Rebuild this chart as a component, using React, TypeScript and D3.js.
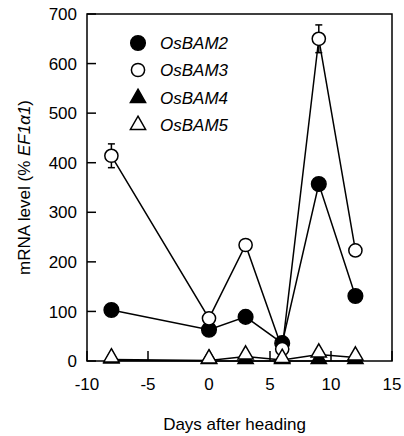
import * as d3 from "d3";

// data
const days = [-8, 0, 3, 6, 9, 12];
const bam2 = [103, 63, 89, 36, 357, 131];
const bam3 = [414, 86, 234, 24, 650, 223];
const bam3Err = [24, 0, 0, 0, 28, 0];
const bam4 = [1, 0, 0, 0, 0, 0];
const bam5 = [3, 1, 9, 2, 13, 7];
const xTicks = [-10, -5, 0, 5, 10, 15];
const yTicks = [0, 100, 200, 300, 400, 500, 600, 700];

const W = 404;
const H = 436;
const margin = { top: 14, right: 12, bottom: 75, left: 87 };
const font = "'Liberation Sans', Arial, Helvetica, sans-serif";

const App = () => {
  const x = d3.scaleLinear().domain([-10, 15]).range([margin.left, W - margin.right]);
  const y = d3.scaleLinear().domain([0, 700]).range([H - margin.bottom, margin.top]);

  const line = d3
    .line<number>()
    .x((_, i) => x(days[i]))
    .y((d) => y(d));

  const tri = d3.symbol().type(d3.symbolTriangle).size(100)() as string;

  const circles = (vals: number[], filled: boolean) =>
    vals.map((v, i) => (
      <circle
        key={i}
        cx={x(days[i])}
        cy={y(v)}
        r={filled ? 7.3 : 6.6}
        fill={filled ? "black" : "white"}
        stroke="black"
        strokeWidth={1.5}
      />
    ));

  const triangles = (vals: number[], filled: boolean) =>
    vals.map((v, i) => (
      <path
        key={i}
        d={tri}
        transform={`translate(${x(days[i])},${y(v) - 2})`}
        fill={filled ? "black" : "white"}
        stroke="black"
        strokeWidth={1.5}
      />
    ));

  const legend = [
    { name: "OsBAM2", kind: "circle", filled: true },
    { name: "OsBAM3", kind: "circle", filled: false },
    { name: "OsBAM4", kind: "tri", filled: true },
    { name: "OsBAM5", kind: "tri", filled: false },
  ];
  const legendY = [43, 70, 98, 125];

  const x0 = margin.left;
  const x1 = W - margin.right;
  const y0 = H - margin.bottom;
  const y1 = margin.top;

  return (
    <div style={{ position: "absolute", left: 0, top: 0 }}>
      <svg width={W} height={H} style={{ display: "block", background: "white" }} fontFamily={font}>
        {/* frame */}
        <rect x={x0} y={y1} width={x1 - x0} height={y0 - y1} fill="none" stroke="black" strokeWidth={1.5} />

        {/* y axis ticks */}
        {yTicks.map((t) => (
          <g key={t}>
            <line x1={x0} x2={x0 + 9} y1={y(t)} y2={y(t)} stroke="black" strokeWidth={1.5} />
            <text x={x0 - 10} y={y(t)} dy="0.36em" textAnchor="end" fontSize={17}>
              {t}
            </text>
          </g>
        ))}

        {/* x axis ticks */}
        {xTicks.map((t) => (
          <g key={t}>
            <line x1={x(t)} x2={x(t)} y1={y0} y2={y0 - 10} stroke="black" strokeWidth={1.5} />
            <text x={x(t)} y={390} textAnchor="middle" fontSize={17}>
              {t}
            </text>
          </g>
        ))}

        {/* axis titles */}
        <text x={(x0 + x1) / 2 - 5} y={430} textAnchor="middle" fontSize={17}>
          Days after heading
        </text>
        <text transform={`translate(30,${(y0 + y1) / 2}) rotate(-90)`} textAnchor="middle" fontSize={17}>
          mRNA level (% <tspan fontStyle="italic">EF1α1</tspan>)
        </text>

        {/* lines */}
        {[bam4, bam5, bam3, bam2].map((s, k) => (
          <path key={k} d={line(s) ?? ""} fill="none" stroke="black" strokeWidth={1.5} />
        ))}

        {/* error bars */}
        {bam3Err.map((e, i) =>
          e > 0 ? (
            <g key={i} stroke="black" strokeWidth={1.5}>
              <line x1={x(days[i])} x2={x(days[i])} y1={y(bam3[i] - e)} y2={y(bam3[i] + e)} />
              <line x1={x(days[i]) - 3.5} x2={x(days[i]) + 3.5} y1={y(bam3[i] + e)} y2={y(bam3[i] + e)} />
              <line x1={x(days[i]) - 3.5} x2={x(days[i]) + 3.5} y1={y(bam3[i] - e)} y2={y(bam3[i] - e)} />
            </g>
          ) : null
        )}

        {/* markers */}
        {triangles(bam4, true)}
        {circles(bam2, true)}
        {circles(bam3, false)}
        {triangles(bam5, false)}

        {/* legend */}
        {legend.map((l, i) => (
          <g key={l.name}>
            {l.kind === "circle" ? (
              <circle
                cx={138}
                cy={legendY[i]}
                r={l.filled ? 7.3 : 6.6}
                fill={l.filled ? "black" : "white"}
                stroke="black"
                strokeWidth={1.5}
              />
            ) : (
              <path
                d={tri}
                transform={`translate(138,${legendY[i]})`}
                fill={l.filled ? "black" : "white"}
                stroke="black"
                strokeWidth={1.5}
              />
            )}
            <text x={160} y={legendY[i]} dy="0.36em" fontSize={17} fontStyle="italic">
              {l.name}
            </text>
          </g>
        ))}
      </svg>
    </div>
  );
};

export default App;
